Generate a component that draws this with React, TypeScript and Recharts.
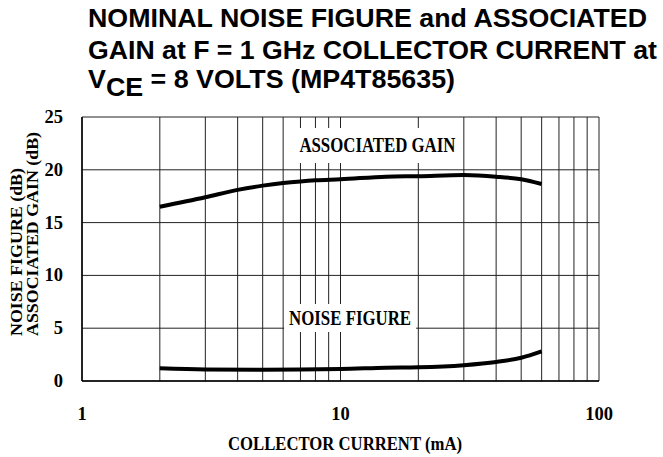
import { LineChart, Line, XAxis, YAxis, CartesianGrid, ReferenceArea } from "recharts";

// collector current (mA) vs dB
const gainCurrent = [2, 3, 4, 5, 6, 7, 8, 10, 15, 20, 30, 40, 50, 60];
const gainDb = [16.5, 17.4, 18.1, 18.5, 18.75, 18.9, 19.0, 19.1, 19.35, 19.4, 19.5, 19.35, 19.1, 18.65];
const noiseCurrent = [2, 3, 5, 7, 10, 15, 20, 30, 40, 50, 60];
const noiseDb = [1.2, 1.1, 1.07, 1.1, 1.13, 1.26, 1.3, 1.5, 1.8, 2.2, 2.8];

const xGrid = [1, 2, 3, 4, 5, 6, 7, 8, 9, 10, 20, 30, 40, 50, 60, 70, 80, 90, 100];
const xLabels = [1, 10, 100];
const yTicks = [0, 5, 10, 15, 20, 25];

const gainData = gainCurrent.map((ma, i) => ({ ma, db: gainDb[i] }));
const noiseData = noiseCurrent.map((ma, i) => ({ ma, db: noiseDb[i] }));

const SERIF = '"Liberation Serif", "Times New Roman", serif';
const SANS = '"Liberation Sans", Arial, sans-serif';

function XTick({ x, y, payload }: any) {
  if (!xLabels.includes(payload.value)) return <g />;
  return (
    <text x={x} y={y + 31} textAnchor="middle" fontFamily={SERIF} fontWeight="bold" fontSize={18.5} fill="#000">
      {payload.value}
    </text>
  );
}

function YTick({ x, y, payload }: any) {
  return (
    <text x={x - 11} y={y + 6} textAnchor="end" fontFamily={SERIF} fontWeight="bold" fontSize={18.5} fill="#000">
      {payload.value}
    </text>
  );
}

// white box over the grid with squeezed bold serif text
function BoxLabel({ viewBox, text, len, size }: any) {
  const cx = viewBox.x + viewBox.width / 2;
  const cy = viewBox.y + viewBox.height / 2;
  return (
    <text
      x={cx}
      y={cy + size * 0.33}
      textAnchor="middle"
      fontFamily={SERIF}
      fontWeight="bold"
      fontSize={size}
      textLength={len}
      lengthAdjust="spacingAndGlyphs"
      fill="#000"
    >
      {text}
    </text>
  );
}

export default function App() {
  return (
    <div style={{ position: "relative", width: 663, height: 457, background: "#fff" }}>
      <style>{"body{margin:0}"}</style>
      <LineChart width={663} height={457} margin={{ top: 117, right: 64, bottom: 75, left: 81 }}>
        <CartesianGrid stroke="#222" strokeWidth={1} />
        <XAxis
          dataKey="ma"
          type="number"
          scale="log"
          domain={[1, 100]}
          ticks={xGrid}
          interval={0}
          allowDataOverflow
          height={1}
          tickLine={false}
          axisLine={{ stroke: "#000", strokeWidth: 1.5 }}
          tick={<XTick />}
        />
        <YAxis
          type="number"
          domain={[0, 25]}
          ticks={yTicks}
          interval={0}
          width={1}
          tickLine={false}
          axisLine={{ stroke: "#000", strokeWidth: 1.5 }}
          tick={<YTick />}
        />
        <ReferenceArea
          x1={6.7}
          x2={28.8}
          y1={20.64}
          y2={23.96}
          fill="#fff"
          fillOpacity={1}
          stroke="none"
          label={<BoxLabel text="ASSOCIATED GAIN" len={156} size={21} />}
        />
        <ReferenceArea
          x1={6.05}
          x2={19.6}
          y1={4.64}
          y2={7.29}
          fill="#fff"
          fillOpacity={1}
          stroke="none"
          label={<BoxLabel text="NOISE FIGURE" len={122} size={20} />}
        />
        <Line data={gainData} dataKey="db" type="monotone" stroke="#000" strokeWidth={4} dot={false} isAnimationActive={false} />
        <Line data={noiseData} dataKey="db" type="monotone" stroke="#000" strokeWidth={4} dot={false} isAnimationActive={false} />
      </LineChart>

      <svg width={663} height={457} style={{ position: "absolute", left: 0, top: 0, pointerEvents: "none" }}>
        <g fontFamily={SANS} fontWeight="bold" fontSize={25} fill="#000">
          <text x={88} y={27} textLength={559} lengthAdjust="spacingAndGlyphs">
            NOMINAL NOISE FIGURE and ASSOCIATED
          </text>
          <text x={88} y={59} textLength={569} lengthAdjust="spacingAndGlyphs">
            GAIN at F = 1 GHz COLLECTOR CURRENT at
          </text>
          <text x={88} y={88} textLength={367} lengthAdjust="spacingAndGlyphs">
            V
            <tspan dy={8}>CE</tspan>
            <tspan dy={-8}> = 8 VOLTS (MP4T85635)</tspan>
          </text>
        </g>
        <g fontFamily={SERIF} fontWeight="bold" fill="#000">
          <text x={345} y={450} textAnchor="middle" fontSize={19.5} textLength={234} lengthAdjust="spacingAndGlyphs">
            COLLECTOR CURRENT (mA)
          </text>
          <text x={22} y={336} transform="rotate(-90 22 336)" fontSize={17} textLength={168} lengthAdjust="spacingAndGlyphs">
            NOISE FIGURE (dB)
          </text>
          <text x={38} y={336} transform="rotate(-90 38 336)" fontSize={17} textLength={204} lengthAdjust="spacingAndGlyphs">
            ASSOCIATED GAIN (dB)
          </text>
        </g>
      </svg>
    </div>
  );
}
